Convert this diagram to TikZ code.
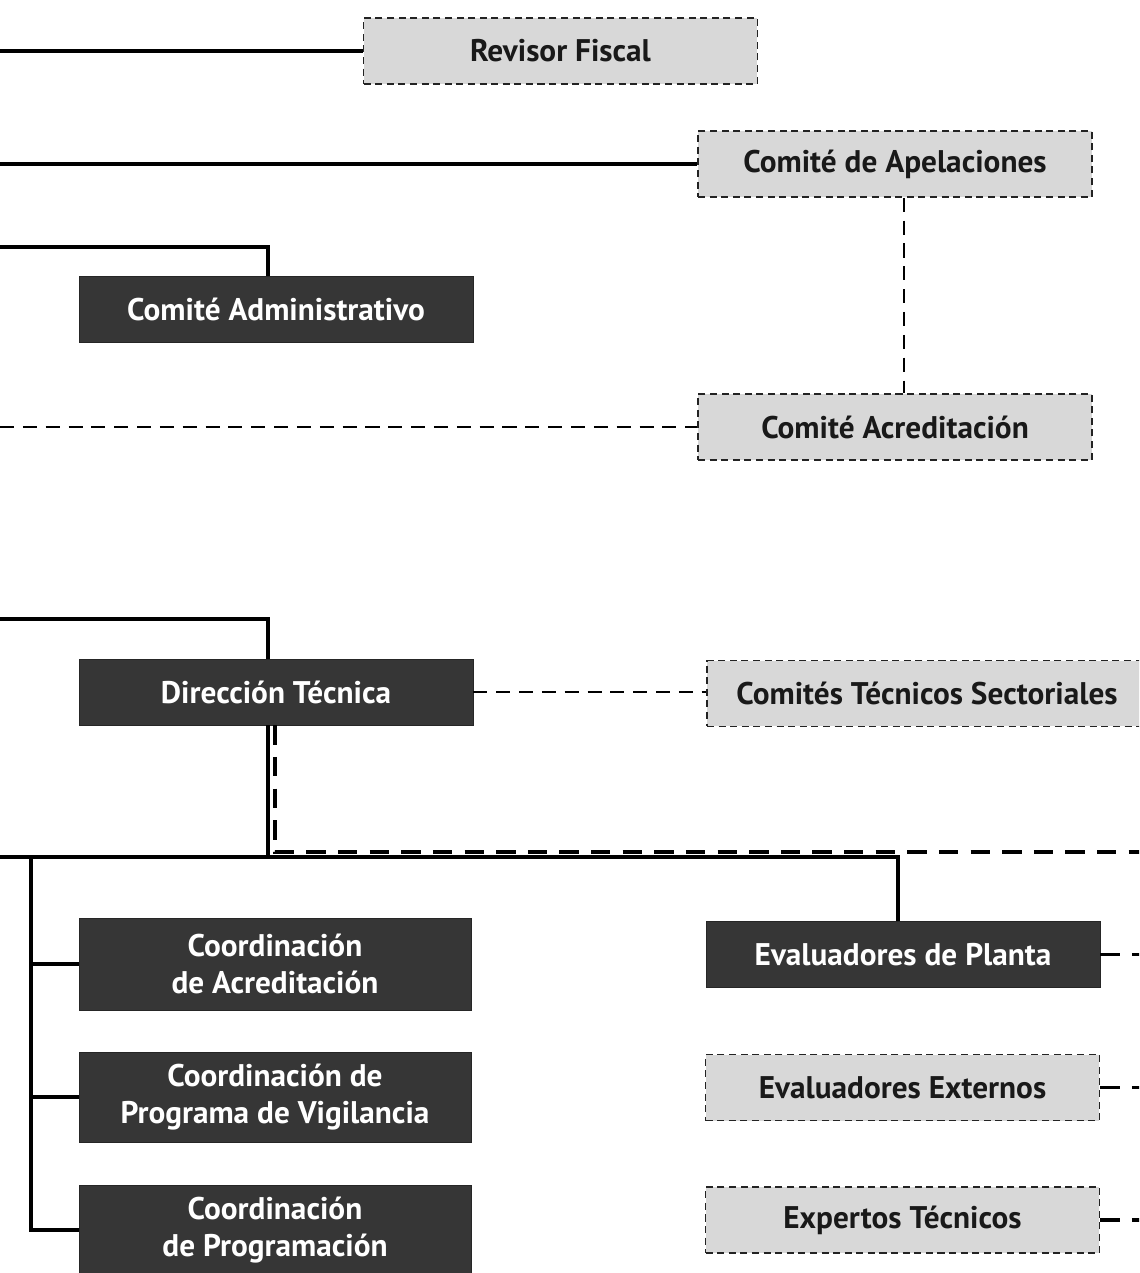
\documentclass[tikz,border=0pt]{standalone}
\usepackage{fontspec}
\setmainfont{PT Sans}
\begin{document}
\begin{tikzpicture}[x=0.02cm,y=-0.02cm,
    darkbox/.style={rectangle,fill={rgb,255:red,54;green,54;blue,54},draw={rgb,255:red,38;green,38;blue,38},
      text=white,font=\fontsize{17.8}{20.6}\selectfont\bfseries,align=center,
      minimum width=7.88cm,minimum height=1.32cm,inner sep=0pt},
    lightbox/.style={rectangle,fill={rgb,255:red,216;green,216;blue,216},draw={rgb,255:red,35;green,35;blue,35},
      line width=0.9pt,dash pattern=on 4pt off 2.6pt,text={rgb,255:red,25;green,25;blue,25},
      font=\fontsize{17.8}{20.6}\selectfont\bfseries,
      minimum width=7.88cm,minimum height=1.32cm,inner sep=0pt},
    solidline/.style={line width=2.2pt,black},
    dashline/.style={line width=1.4pt,black,dash pattern=on 8pt off 5pt},
    thickdash/.style={line width=2.2pt,black,dash pattern=on 11pt off 7pt}]
  \useasboundingbox (0,0) rectangle (1139,1273);
  \clip (0,0) rectangle (1139,1273);
  % upper part
  \node[lightbox] (revisor) at(560.5,51) {Revisor Fiscal};
  \node[lightbox] (apelaciones) at(895,164) {Comité de Apelaciones};
  \node[darkbox] (administrativo) at(276,309) {Comité Administrativo};
  \node[lightbox] (acreditacion) at(895,427) {Comité Acreditación};
  % technical direction
  \node[darkbox] (direccion) at(276,692) {Dirección Técnica};
  \node[lightbox,minimum width=8.8cm] (sectoriales) at(927,693.5) {Comités Técnicos Sectoriales};
  % coordinations
  \node[darkbox,minimum width=7.84cm,minimum height=1.84cm] (coordacred) at(275,964) {Coordinación\\de Acreditación};
  \node[darkbox,minimum width=7.84cm,minimum height=1.8cm] (coordvig) at(275,1097) {Coordinación de\\Programa de Vigilancia};
  \node[darkbox,minimum width=7.84cm,minimum height=1.8cm] (coordprog) at(275,1230) {Coordinación\\de Programación};
  % evaluators
  \node[darkbox] (evplanta) at(903,954.5) {Evaluadores de Planta};
  \node[lightbox] (evexternos) at(902.5,1087.5) {Evaluadores Externos};
  \node[lightbox] (expertos) at(902.5,1220) {Expertos Técnicos};
  % loose ends
  \coordinate (inadmin) at (0,247);
  \coordinate (indireccion) at (0,619);
  \coordinate (inhub) at (0,857);
  \coordinate (trunk) at (31,857);
  \coordinate (outtec) at (1150,852);
  % connectors
  \draw[solidline] (revisor.west -| 0,0) -- (revisor.west);
  \draw[solidline] (apelaciones.west -| 0,0) -- (apelaciones.west);
  \draw[solidline] (inadmin) -| ([xshift=-0.16cm]administrativo.north);
  \draw[dashline] (acreditacion.west -| 0,0) -- (acreditacion.west);
  \draw[dashline] ([xshift=0.18cm]apelaciones.south) -- ([xshift=0.18cm]acreditacion.north);
  \draw[solidline] (indireccion) -| ([xshift=-0.16cm]direccion.north);
  \draw[dashline] (direccion.east) -- (direccion.east -| sectoriales.west);
  \draw[thickdash] ([xshift=-0.02cm]direccion.south) |- (outtec);
  \draw[solidline] ([xshift=-0.16cm]direccion.south) -- ++(0,132);
  \draw[solidline] (inhub) -| ([xshift=-0.1cm]evplanta.north);
  \draw[solidline] (trunk) |- (coordprog.west);
  \draw[solidline] (trunk |- coordacred.west) -- (coordacred.west);
  \draw[solidline] (trunk |- coordvig.west) -- (coordvig.west);
  \draw[thickdash] (evplanta.east) -- (evplanta.east -| outtec);
  \draw[thickdash] (evexternos.east) -- (evexternos.east -| outtec);
  \draw[thickdash] (expertos.east) -- (expertos.east -| outtec);
\end{tikzpicture}
\end{document}
